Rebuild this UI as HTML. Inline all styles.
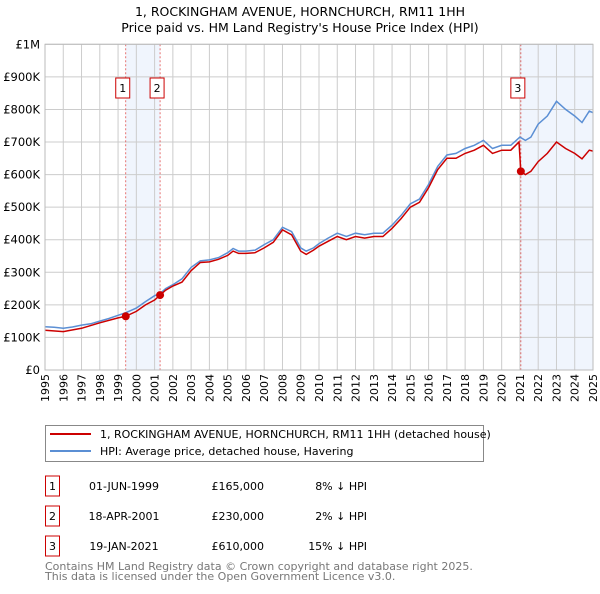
<!DOCTYPE html>
<html><head><meta charset="utf-8"><style>
body{margin:0;background:#fff;font-family:"DejaVu Sans","Liberation Sans",sans-serif;}
svg text{font-family:"DejaVu Sans","Liberation Sans",sans-serif;}
</style></head><body>
<svg width="600" height="590" xmlns="http://www.w3.org/2000/svg">
<text x="300" y="16" text-anchor="middle" font-size="12.5">1, ROCKINGHAM AVENUE, HORNCHURCH, RM11 1HH</text>
<text x="300" y="32" text-anchor="middle" font-size="12.5">Price paid vs. HM Land Registry's House Price Index (HPI)</text>
<g id="plot"></g>
<g>
<rect x="45.5" y="425.5" width="438" height="36" fill="#fff" stroke="#888"/>
<line x1="50" y1="434" x2="91" y2="434" stroke="#cc0000" stroke-width="2"/>
<text x="100" y="438" font-size="11">1, ROCKINGHAM AVENUE, HORNCHURCH, RM11 1HH (detached house)</text>
<line x1="50" y1="451" x2="91" y2="451" stroke="#5b8fd4" stroke-width="2"/>
<text x="100" y="455" font-size="11">HPI: Average price, detached house, Havering</text>
</g>
<g id="table" font-size="11"></g>
<text x="45" y="570" font-size="11" fill="#777">Contains HM Land Registry data © Crown copyright and database right 2025.</text>
<text x="45" y="580" font-size="11" fill="#777">This data is licensed under the Open Government Licence v3.0.</text>
</svg>
<script>
const hpiYears=[1995,1995.5,1996,1996.5,1997,1997.5,1998,1998.5,1999,1999.42,2000,2000.5,2001,2001.3,2001.6,2002,2002.5,2003,2003.5,2004,2004.5,2005,2005.3,2005.6,2006,2006.5,2007,2007.5,2008,2008.5,2009,2009.3,2009.7,2010,2010.5,2011,2011.5,2012,2012.5,2013,2013.5,2014,2014.5,2015,2015.5,2016,2016.5,2017,2017.5,2018,2018.5,2019,2019.5,2020,2020.5,2021,2021.3,2021.6,2022,2022.5,2023,2023.5,2024,2024.4,2024.8,2025];
const hpiValues=[133,131,128,132,138,142,150,158,168,176,190,210,228,235,250,262,280,315,335,338,345,360,373,365,365,368,385,400,438,425,375,365,375,388,405,420,410,420,415,420,420,445,475,510,525,570,625,660,665,680,690,705,680,690,690,715,705,715,755,780,825,800,780,760,795,790];
const priceYears=[1995,1996,1997,1998,1999,1999.42,2000,2000.5,2001,2001.3,2001.6,2002,2002.5,2003,2003.5,2004,2004.5,2005,2005.3,2005.6,2006,2006.5,2007,2007.5,2008,2008.5,2009,2009.3,2009.7,2010,2010.5,2011,2011.5,2012,2012.5,2013,2013.5,2014,2014.5,2015,2015.5,2016,2016.5,2017,2017.5,2018,2018.5,2019,2019.5,2020,2020.5,2020.95,2021.05,2021.3,2021.6,2022,2022.5,2023,2023.5,2024,2024.4,2024.8,2025];
const priceValues=[122,118,128,145,160,165,180,200,215,230,245,258,270,305,330,332,340,352,365,358,358,360,375,392,430,415,365,355,368,380,395,410,400,410,405,410,410,435,465,500,515,560,615,650,650,665,675,690,665,675,675,700,610,600,610,640,665,700,680,665,648,675,672];
const saleLabels=["1","2","3"];
const saleDates=[1999.42,2001.3,2021.05];
const saleValues=[165,230,610];
const saleDateText=["01-JUN-1999","18-APR-2001","19-JAN-2021"];
const salePriceText=["£165,000","£230,000","£610,000"];
const saleDiffText=["8% ↓ HPI","2% ↓ HPI","15% ↓ HPI"];
const yTicks=[0,100,200,300,400,500,600,700,800,900,1000];
const yTickLabels=["£0","£100K","£200K","£300K","£400K","£500K","£600K","£700K","£800K","£900K","£1M"];
const xTicks=[1995,1996,1997,1998,1999,2000,2001,2002,2003,2004,2005,2006,2007,2008,2009,2010,2011,2012,2013,2014,2015,2016,2017,2018,2019,2020,2021,2022,2023,2024,2025];

const NS="http://www.w3.org/2000/svg";
const L=45,R=593,T=44.3,B=370;
const xs=y=>L+(y-1995)/30*(R-L);
const ys=v=>B-v/1000*(B-T);
const plot=document.getElementById('plot');
function mk(tag,attrs,parent){const e=document.createElementNS(NS,tag);for(const k in attrs)e.setAttribute(k,attrs[k]);(parent||plot).appendChild(e);return e;}
[[saleDates[0],saleDates[1]],[saleDates[2],2025]].forEach((s,i)=>{
 const r=mk('rect',{x:xs(s[0]),y:T,width:xs(s[1])-xs(s[0]),height:B-T,fill:'#f0f5fd'});
 
 
});
xTicks.forEach(t=>{
 const g=mk('line',{x1:xs(t),x2:xs(t),y1:T,y2:B,stroke:'#ccc','stroke-width':1});
 
 
 const tx=mk('text',{x:0,y:0,'font-size':11,'text-anchor':'end',transform:`translate(${xs(t)+4},${B+4}) rotate(-90)`});
 tx.textContent=t;
 
 
});
yTicks.forEach((t,i)=>{
 const g=mk('line',{x1:L,x2:R,y1:ys(t),y2:ys(t),stroke:'#ccc','stroke-width':1});
 
 
 const tx=mk('text',{x:L-5,y:ys(t)+4,'font-size':11.5,'text-anchor':'end'});
 tx.textContent=yTickLabels[i];
 
 
});
saleDates.forEach((d,i)=>{
 const l=mk('line',{x1:xs(d),x2:xs(d),y1:T,y2:B,stroke:'#e05050','stroke-width':0.8,'stroke-dasharray':'2,2'});
 
 
 const bx=xs(d)-3;
 const r=mk('rect',{x:bx-7,y:78,width:14,height:20,fill:'#fff',stroke:'#cc0000','stroke-width':1});
 
 
 const t=mk('text',{x:bx,y:92,'font-size':11,'text-anchor':'middle'});
 t.textContent=saleLabels[i];
 
 
});
const hp=mk('path',{d:hpiYears.map((y,i)=>(i?'L':'M')+xs(y).toFixed(1)+','+ys(hpiValues[i]).toFixed(1)).join(''),fill:'none',stroke:'#5b8fd4','stroke-width':1.5});


const pp=mk('path',{d:priceYears.map((y,i)=>(i?'L':'M')+xs(y).toFixed(1)+','+ys(priceValues[i]).toFixed(1)).join(''),fill:'none',stroke:'#cc0000','stroke-width':1.5});


saleDates.forEach((d,i)=>{
 const c=mk('circle',{cx:xs(d),cy:ys(saleValues[i]),r:4,fill:'#cc0000'});
 
 
});
const ax=mk('rect',{x:L,y:T,width:R-L,height:B-T,fill:'none',stroke:'#bbb','stroke-width':1});


const tb=document.getElementById('table');
saleLabels.forEach((s,i)=>{
 const y=483+i*30;
 const r=mk('rect',{x:45.5,y:y-7,width:14,height:20,fill:'#fff',stroke:'#cc0000'},tb);
 
 
 const a=mk('text',{x:52.5,y:y+7,'text-anchor':'middle'},tb);a.textContent=s;
 
 
 const b=mk('text',{x:124,y:y+7,'text-anchor':'middle'},tb);b.textContent=saleDateText[i];
 
 
 const c=mk('text',{x:264,y:y+7,'text-anchor':'end'},tb);c.textContent=salePriceText[i];
 
 
 const e=mk('text',{x:367,y:y+7,'text-anchor':'end'},tb);e.textContent=saleDiffText[i];
 
 
});
</script>
</body></html>
